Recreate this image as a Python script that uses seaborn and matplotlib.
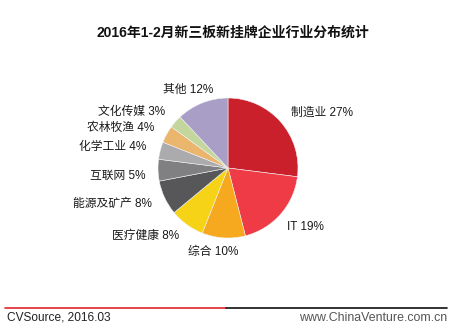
import matplotlib
matplotlib.use("Agg")
import matplotlib.pyplot as plt
from matplotlib.lines import Line2D
import seaborn as sns

# Industry breakdown of newly listed NEEQ companies, Jan-Feb 2016 (%)
industries = ["制造业", "IT", "综合", "医疗健康", "能源及矿产",
              "互联网", "化学工业", "农林牧渔", "文化传媒", "其他"]
shares = [27, 19, 10, 8, 8, 5, 4, 4, 3, 12]
slice_colors = ["#C9202B", "#EE3B46", "#F6A81E", "#F6D316", "#57575A",
                "#808083", "#ABABAE", "#EAB56C", "#C3D79C", "#A99EC6"]

title = "2016年1-2月新三板新挂牌企业行业分布统计"
source = "CVSource, 2016.03"
site = "www.ChinaVenture.com.cn"

sns.set_theme(style="white")
plt.rcParams["font.family"] = ["Liberation Sans", "Noto Sans CJK SC", "DejaVu Sans"]

fig = plt.figure(figsize=(4.52, 3.32), dpi=100)
fig.patch.set_facecolor("white")

W, H = 452, 332
cx, cy, r = 228, 168, 70
ax = fig.add_axes([(cx - r) / W, (H - cy - r) / H, 2 * r / W, 2 * r / H])

labels = [f"{n} {v}%" for n, v in zip(industries, shares)]
wedges, texts = ax.pie(
    shares,
    labels=labels,
    colors=sns.color_palette(slice_colors),
    startangle=90,
    counterclock=False,
    labeldistance=1.2,
    wedgeprops=dict(edgecolor="#F2F2F2", linewidth=0.4),
    textprops=dict(fontsize=8.5, color="#1A1A1A"),
)

# small nudges so the labels sit clear of neighbouring slices
nudges = {"IT": (-0.06, -0.05), "综合": (0.23, 0.0),
          "互联网": (0.02, -0.07), "其他": (0.23, 0.0)}
for name, t in zip(industries, texts):
    dx, dy = nudges.get(name, (0.0, 0.0))
    x, y = t.get_position()
    t.set_position((x + dx, y + dy))

ax.set_xlim(-1, 1)
ax.set_ylim(-1, 1)
ax.set_aspect("equal")

fig.text(233 / W, 1 - 33 / H, title, ha="center", va="center",
         fontsize=10, fontweight="bold", color="#111111")

ly = 1 - 308 / H
fig.add_artist(Line2D([5 / W, 226 / W], [ly, ly], color="#E0242B", linewidth=1.2))
fig.add_artist(Line2D([226 / W, 447 / W], [ly, ly], color="#111111", linewidth=1.2))

fig.text(7 / W, 1 - 318 / H, source, ha="left", va="center",
         fontsize=8.6, color="#222222")
fig.text(447 / W, 1 - 318 / H, site, ha="right", va="center",
         fontsize=8.9, color="#555555")

fig.savefig("out.png", dpi=100, facecolor="white")
